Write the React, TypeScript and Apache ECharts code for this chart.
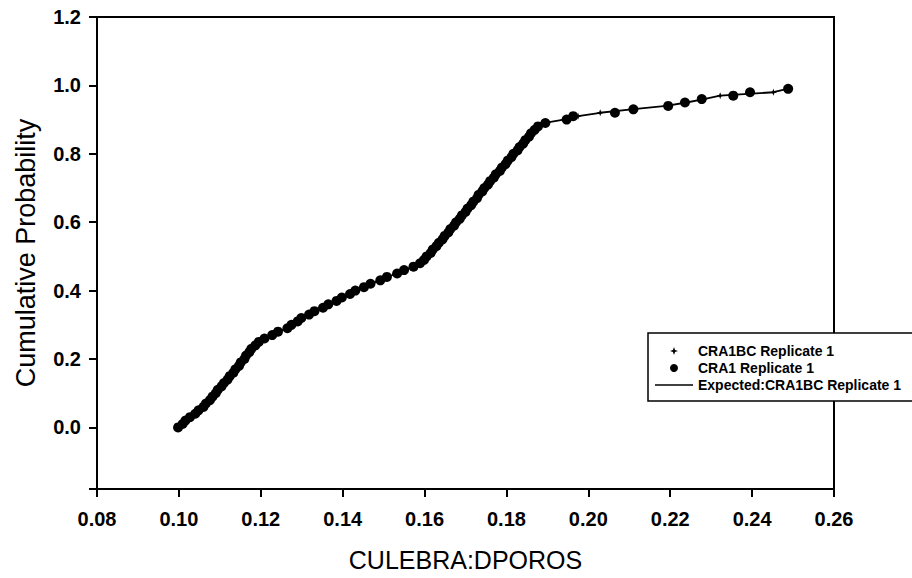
import React, { useEffect, useRef } from "react";
import * as echarts from "echarts";

const FONT = "Arial, 'Liberation Sans', Helvetica, sans-serif";

const SERIES_NAMES = ["CRA1BC Replicate 1", "CRA1 Replicate 1", "Expected:CRA1BC Replicate 1"];

const X_TICK_MIN = 0.08;
const X_TICK_MAX = 0.26;
const X_TICK_STEP = 0.02;
const Y_TICK_MIN = -0.18;
const Y_TICK_MAX = 1.2;
const Y_TICK_STEP = 0.2;

const PROB = [
  0.0, 0.01, 0.02, 0.03, 0.04, 0.05, 0.06, 0.07, 0.08, 0.09,
  0.1, 0.11, 0.12, 0.13, 0.14, 0.15, 0.16, 0.17, 0.18, 0.19,
  0.2, 0.21, 0.22, 0.23, 0.24, 0.25, 0.26, 0.27, 0.28, 0.29,
  0.3, 0.31, 0.32, 0.33, 0.34, 0.35, 0.36, 0.37, 0.38, 0.39,
  0.4, 0.41, 0.42, 0.43, 0.44, 0.45, 0.46, 0.47, 0.48, 0.49,
  0.5, 0.51, 0.52, 0.53, 0.54, 0.55, 0.56, 0.57, 0.58, 0.59,
  0.6, 0.61, 0.62, 0.63, 0.64, 0.65, 0.66, 0.67, 0.68, 0.69,
  0.7, 0.71, 0.72, 0.73, 0.74, 0.75, 0.76, 0.77, 0.78, 0.79,
  0.8, 0.81, 0.82, 0.83, 0.84, 0.85, 0.86, 0.87, 0.88, 0.89,
  0.9, 0.91, 0.92, 0.93, 0.94, 0.95, 0.96, 0.97, 0.98, 0.99,
];

// CRA1 Replicate 1 (filled circles): DPOROS value at each cumulative probability
const CRA1_X = [
  0.0998, 0.1009, 0.1016, 0.1027, 0.1040, 0.1048, 0.1060, 0.1066, 0.1076, 0.1082,
  0.1090, 0.1095, 0.1104, 0.1110, 0.1119, 0.1124, 0.1133, 0.1138, 0.1147, 0.1151,
  0.1160, 0.1164, 0.1172, 0.1177, 0.1187, 0.1195, 0.1209, 0.1228, 0.1242, 0.1265,
  0.1275, 0.1290, 0.1299, 0.1318, 0.1331, 0.1352, 0.1365, 0.1385, 0.1398, 0.1418,
  0.1431, 0.1452, 0.1468, 0.1492, 0.1508, 0.1533, 0.1550, 0.1573, 0.1589, 0.1599,
  0.1605, 0.1615, 0.1620, 0.1629, 0.1635, 0.1644, 0.1649, 0.1658, 0.1663, 0.1672,
  0.1677, 0.1686, 0.1691, 0.1700, 0.1705, 0.1714, 0.1719, 0.1728, 0.1732, 0.1741,
  0.1746, 0.1755, 0.1760, 0.1769, 0.1774, 0.1784, 0.1789, 0.1798, 0.1803, 0.1812,
  0.1817, 0.1827, 0.1832, 0.1841, 0.1846, 0.1855, 0.1860, 0.1869, 0.1877, 0.1895,
  0.1947, 0.1963, 0.2065, 0.2110, 0.2195, 0.2236, 0.2277, 0.2354, 0.2395, 0.2488,
];

// CRA1BC Replicate 1 (small crosses): DPOROS value at each cumulative probability
const CRA1BC_X = [
  0.1000, 0.1007, 0.1018, 0.1029, 0.1037, 0.1050, 0.1058, 0.1068, 0.1074, 0.1084,
  0.1088, 0.1097, 0.1102, 0.1112, 0.1117, 0.1126, 0.1131, 0.1140, 0.1145, 0.1153,
  0.1158, 0.1166, 0.1170, 0.1179, 0.1185, 0.1197, 0.1212, 0.1225, 0.1245, 0.1262,
  0.1278, 0.1287, 0.1302, 0.1314, 0.1335, 0.1348, 0.1368, 0.1381, 0.1402, 0.1414,
  0.1434, 0.1448, 0.1472, 0.1488, 0.1512, 0.1529, 0.1554, 0.1569, 0.1591, 0.1597,
  0.1607, 0.1613, 0.1622, 0.1627, 0.1637, 0.1642, 0.1651, 0.1656, 0.1665, 0.1670,
  0.1679, 0.1684, 0.1693, 0.1698, 0.1707, 0.1712, 0.1721, 0.1726, 0.1734, 0.1739,
  0.1748, 0.1753, 0.1762, 0.1767, 0.1776, 0.1782, 0.1791, 0.1796, 0.1805, 0.1810,
  0.1819, 0.1825, 0.1834, 0.1839, 0.1848, 0.1853, 0.1862, 0.1867, 0.1875, 0.1890,
  0.1940, 0.1975, 0.2029, 0.2105, 0.2190, 0.2240, 0.2282, 0.2322, 0.2452, 0.2486,
];

const STAR = "path://M5,0 L6.3,3.7 L10,5 L6.3,6.3 L5,10 L3.7,6.3 L0,5 L3.7,3.7 Z";
const LINE_ICON = "path://M0,0 L38,0 L38,1.6 L0,1.6 Z";

export default function App() {
  const ref = useRef<HTMLDivElement>(null);

  useEffect(() => {
    if (!ref.current) return;
    const chart = echarts.init(ref.current, undefined, { renderer: "svg" });

    const circles = CRA1_X.map((x, i) => [x, PROB[i]]);
    const crosses = CRA1BC_X.map((x, i) => [x, PROB[i]]);

    chart.setOption({
      animation: false,
      backgroundColor: "#ffffff",
      textStyle: { fontFamily: FONT, color: "#000" },
      grid: {
        left: 97,
        right: 78,
        top: 17,
        bottom: 89,
        show: true,
        borderColor: "#000",
        borderWidth: 2,
        backgroundColor: "transparent",
      },
      legend: {
        orient: "vertical",
        left: 648,
        top: 333,
        padding: [11, 80, 9, 7],
        itemGap: 3,
        itemWidth: 38,
        itemHeight: 8,
        borderColor: "#000",
        borderWidth: 1.5,
        borderRadius: 0,
        backgroundColor: "#fff",
        textStyle: { fontSize: 14, fontWeight: "bold", color: "#000", fontFamily: FONT },
        data: [
          { name: SERIES_NAMES[0], icon: STAR, itemStyle: { color: "#000", opacity: 1 } },
          { name: SERIES_NAMES[1], icon: "circle", itemStyle: { color: "#000", opacity: 1 } },
          { name: SERIES_NAMES[2], icon: LINE_ICON, itemStyle: { color: "#000", opacity: 1 } },
        ],
      },
      xAxis: {
        type: "value",
        min: X_TICK_MIN,
        max: X_TICK_MAX,
        interval: X_TICK_STEP,
        name: "CULEBRA:DPOROS",
        nameLocation: "middle",
        nameGap: 58,
        nameTextStyle: { fontSize: 25, color: "#000", fontFamily: FONT },
        axisLine: { show: true, onZero: false, lineStyle: { color: "#000", width: 2 } },
        axisTick: { show: true, length: 8, lineStyle: { color: "#000", width: 2 } },
        axisLabel: {
          margin: 20,
          fontSize: 20,
          fontWeight: "bold",
          color: "#000",
          fontFamily: FONT,
          formatter: (v: number) => v.toFixed(2),
        },
        splitLine: { show: false },
      },
      yAxis: {
        type: "value",
        min: Y_TICK_MIN,
        max: Y_TICK_MAX,
        splitNumber: 7,
        minInterval: Y_TICK_STEP,
        maxInterval: Y_TICK_STEP,
        name: "Cumulative Probability",
        nameLocation: "middle",
        nameGap: 58,
        nameTextStyle: { fontSize: 27, color: "#000", fontFamily: FONT },
        axisLine: { show: true, onZero: false, lineStyle: { color: "#000", width: 2 } },
        axisTick: { show: true, length: 8, lineStyle: { color: "#000", width: 2 } },
        axisLabel: {
          margin: 16,
          fontSize: 20,
          fontWeight: "bold",
          color: "#000",
          fontFamily: FONT,
          formatter: (v: number) => (v < -0.001 ? "" : v.toFixed(1)),
        },
        splitLine: { show: false },
      },
      series: [
        {
          name: SERIES_NAMES[2],
          type: "line",
          data: crosses,
          symbol: "none",
          lineStyle: { color: "#000", width: 1.8, opacity: 1 },
          itemStyle: { color: "#000" },
          z: 1,
        },
        {
          name: SERIES_NAMES[1],
          type: "scatter",
          data: circles,
          symbol: "circle",
          symbolSize: 10,
          itemStyle: { color: "#000", opacity: 1 },
          z: 2,
        },
        {
          name: SERIES_NAMES[0],
          type: "scatter",
          data: crosses,
          symbol: STAR,
          symbolSize: 7,
          itemStyle: { color: "#000", opacity: 1 },
          z: 3,
        },
      ],
    });

    return () => chart.dispose();
  }, []);

  return (
    <div
      ref={ref}
      style={{ position: "fixed", left: 0, top: 0, width: 912, height: 578, background: "#fff" }}
    />
  );
}
